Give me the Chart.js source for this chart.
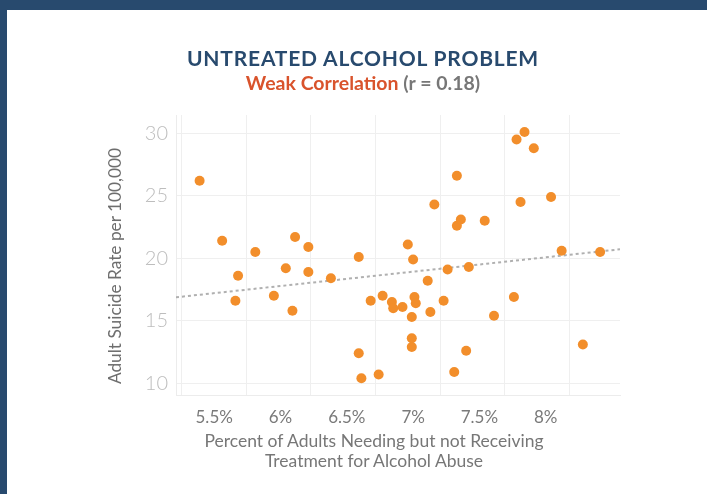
<!DOCTYPE html>
<html>
<head>
<meta charset="utf-8">
<script src="https://cdn.jsdelivr.net/npm/chart.js@4.4.1/dist/chart.umd.min.js"></script>
<style>
  html, body { margin: 0; padding: 0; }
  body { width: 707px; height: 494px; background: #284a6e; position: relative; overflow: hidden; font-family: 'Lato', sans-serif; }
  .card { position: absolute; left: 7px; top: 10px; width: 700px; height: 484px; background: #fff; }
  canvas { position: absolute; left: 0; top: 0; }
  .txt { position: absolute; white-space: nowrap; text-align: center; }
  #title { left: 0; width: 726px; top: 45px; line-height: 26px; font-size: 21px; font-weight: 700; color: #284a6e; letter-spacing: 0.8px; }
  #subtitle { left: 0; width: 726px; top: 71px; line-height: 24px; font-size: 19.5px; font-weight: 700; color: #777; }
  #subtitle .hl { color: #d9532c; }
  #xtitle { left: 124px; width: 500px; top: 431px; line-height: 19.5px; font-size: 17.5px; color: #777; }
  #ytitle { left: -15px; width: 260px; top: 256px; line-height: 20px; font-size: 17.3px; color: #6e6e6e; transform: rotate(-90deg); }
</style>
</head>
<body>
<div class="card"></div>
<canvas id="chart" width="707" height="494"></canvas>
<div class="txt" id="title">UNTREATED ALCOHOL PROBLEM</div>
<div class="txt" id="subtitle"><span class="hl">Weak Correlation</span> (r = 0.18)</div>
<div class="txt" id="ytitle">Adult Suicide Rate per 100,000</div>
<div class="txt" id="xtitle">Percent of Adults Needing but not Receiving<br>Treatment for Alcohol Abuse</div>
<script>
// percent of adults needing but not receiving treatment (one per state)
const untreatedPct = [
  5.39, 5.56, 5.68, 5.66, 5.81, 5.95, 6.04, 6.09, 6.11, 6.21,
  6.21, 6.38, 6.59, 6.59, 6.61, 6.68, 6.74, 6.77, 6.84, 6.85,
  6.92, 6.96, 7.00, 6.99, 6.99, 6.99, 7.01, 7.02, 7.11, 7.13,
  7.16, 7.23, 7.26, 7.31, 7.33, 7.33, 7.36, 7.40, 7.42, 7.54,
  7.61, 7.76, 7.78, 7.81, 7.84, 7.91, 8.04, 8.12, 8.28, 8.41
];
// adult suicide rate per 100,000
const suicideRate = [
  26.2, 21.4, 18.6, 16.6, 20.5, 17.0, 19.2, 15.8, 21.7, 20.9,
  18.9, 18.4, 20.1, 12.4, 10.4, 16.6, 10.7, 17.0, 16.5, 16.0,
  16.1, 21.1, 19.9, 15.3, 13.6, 12.9, 16.9, 16.4, 18.2, 15.7,
  24.3, 16.6, 19.1, 10.9, 26.6, 22.6, 23.1, 12.6, 19.3, 23.0,
  15.4, 16.9, 29.5, 24.5, 30.1, 28.8, 24.9, 20.6, 13.1, 20.5
];
// dotted trend line, ends at the plot edges
const trendX = [5.212, 8.56];
const trendY = [16.88, 20.72];

const xTicks = [5.5, 6, 6.5, 7, 7.5, 8];
const xTickLabels = ['5.5%', '6%', '6.5%', '7%', '7.5%', '8%'];
const yTicks = [10, 15, 20, 25, 30];
const gridSteps = [0, 1, 2, 3, 4, 5, 6];

Chart.defaults.font.family = 'Lato, sans-serif';

const ctx = document.getElementById('chart').getContext('2d');
new Chart(ctx, {
    type: 'scatter',
    data: {
        datasets: [
            {
                label: 'States',
                data: untreatedPct.map((x, i) => ({ x: x, y: suicideRate[i] })),
                backgroundColor: '#f28e2b',
                borderWidth: 0,
                pointRadius: 5,
                pointHoverRadius: 5
            },
            {
                type: 'line',
                label: 'Trend',
                data: trendX.map((x, i) => ({ x: x, y: trendY[i] })),
                borderColor: '#b0b0b0',
                borderWidth: 2,
                borderDash: [3, 3],
                pointRadius: 0,
                fill: false
            }
        ]
    },
    options: {
        responsive: false,
        animation: false,
        devicePixelRatio: 1,
        layout: { padding: { top: 115, left: 106, right: 87, bottom: 59 } },
        plugins: { legend: { display: false }, tooltip: { enabled: false } },
        scales: {
            x: {
                type: 'linear',
                position: 'bottom',
                min: 5.212,
                max: 8.56,
                afterBuildTicks: s => { s.ticks = xTicks.map(v => ({ value: v })); },
                afterFit: s => { s.height = 40; },
                ticks: {
                    padding: 4,
                    color: '#7a7a7a',
                    font: { size: 17 },
                    callback: (v, i) => xTickLabels[i]
                },
                grid: { display: false },
                border: { display: true, color: '#ececec' }
            },
            // vertical grid lines of the panel
            xg: {
                type: 'linear',
                position: 'bottom',
                min: -0.088,
                max: 6.785,
                afterBuildTicks: s => { s.ticks = gridSteps.map(v => ({ value: v })); },
                afterFit: s => { s.height = 0; },
                ticks: { display: false },
                grid: { color: '#efefef', drawTicks: false },
                border: { display: false }
            },
            y: {
                type: 'linear',
                min: 9.064,
                max: 31.464,
                afterBuildTicks: s => { s.ticks = yTicks.map(v => ({ value: v })); },
                afterFit: s => { s.width = 70; },
                ticks: {
                    padding: 8,
                    color: '#bdbdbd',
                    font: { size: 20, weight: '300' }
                },
                grid: { color: '#efefef', drawTicks: false },
                border: { display: true, color: '#ececec' }
            }
        }
    }
});
</script>
</body>
</html>
